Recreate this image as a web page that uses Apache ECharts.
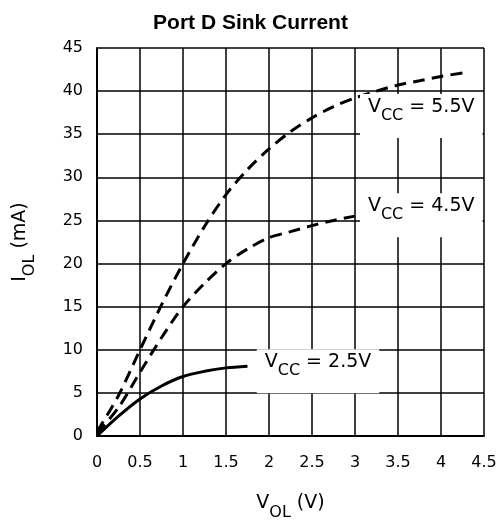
<!DOCTYPE html>
<html>
<head>
<meta charset="utf-8">
<script src="https://cdn.jsdelivr.net/npm/echarts@6/dist/echarts.min.js"></script>
<style>html,body{margin:0;padding:0;background:#fff}#c{width:501px;height:522px}</style>
</head>
<body>
<div id="c"></div>
<script>
const vol = [0, 0.25, 0.5, 0.75, 1.0, 1.25, 1.5, 1.75, 2.0, 2.25, 2.5, 2.75, 3.0, 3.25, 3.5, 3.75, 4.0, 4.25];
const iol55 = [0.5, 4.7, 10, 15.2, 20, 24.3, 28.0, 30.9, 33.3, 35.3, 36.9, 38.2, 39.2, 40, 40.7, 41.2, 41.7, 42.1];
const vol45 = [0, 0.25, 0.5, 0.75, 1.0, 1.25, 1.5, 1.75, 2.0, 2.25, 2.5, 2.75, 3.0];
const iol45 = [0.3, 3.3, 7.4, 11.4, 15, 17.7, 20.0, 21.7, 23.0, 23.7, 24.4, 25.0, 25.5];
const vol25 = [0, 0.25, 0.5, 0.75, 1.0, 1.25, 1.5, 1.75];
const iol25 = [0, 2.3, 4.3, 5.8, 6.9, 7.5, 7.9, 8.1];
const xTicks = [0, 0.5, 1, 1.5, 2, 2.5, 3, 3.5, 4, 4.5];
const yTicks = [0, 5, 10, 15, 20, 25, 30, 35, 40, 45];
const seriesNames = ['5.5V', '4.5V', '2.5V'];
const labelSpots = [[3.77, 37.1], [3.77, 25.6], [2.57, 7.5]];

const FONT = 'DejaVu Sans';
const pair = (xs, ys) => xs.map((x, i) => [x, ys[i]]);
const richLbl = {
  a: { fontFamily: FONT, fontSize: 19, color: '#000', lineHeight: 20, verticalAlign: 'top' },
  b: { fontFamily: FONT, fontSize: 16, color: '#000', lineHeight: 38, verticalAlign: 'middle' }
};
function vccLabel(i) {
  return {
    coord: labelSpots[i],
    symbolSize: 0,
    label: {
      show: true, position: 'inside',
      formatter: '{a|V}{b|CC}{a| = ' + seriesNames[i] + '}',
      rich: richLbl,
      backgroundColor: '#fff', padding: [3, 8, 3, 8]
    }
  };
}
function mkSeries(xs, ys, i, dashed) {
  return {
    type: 'line', data: pair(xs, ys), smooth: 0.3,
    showSymbol: false, symbol: 'none', z: 3,
    lineStyle: { color: '#000', width: 3, type: dashed ? [12, 7] : 'solid', cap: 'butt' },
    markPoint: { silent: true, symbol: 'circle', symbolSize: 0, z: 5, data: [vccLabel(i)] }
  };
}
const chart = echarts.init(document.getElementById('c'));
chart.setOption({
  animation: false,
  title: { text: 'Port D Sink Current', left: 'center', top: 8,
    textStyle: { fontFamily: 'Liberation Sans', fontWeight: 'bold', fontSize: 21, color: '#000' } },
  grid: { left: 97, right: 17, top: 48, bottom: 86, containLabel: false, outerBoundsMode: 'none' },
  xAxis: {
    type: 'value', min: xTicks[0], max: xTicks[xTicks.length - 1], interval: 0.5,
    axisLine: { show: true, onZero: false, lineStyle: { color: '#000', width: 2 } },
    axisTick: { show: false },
    splitLine: { show: true, lineStyle: { color: '#000', width: 1.5 } },
    axisLabel: { fontFamily: FONT, fontSize: 16, color: '#000', margin: 19 },
    name: '{a|V}{b|OL}{a| (V)}', nameLocation: 'middle', nameGap: 58,
    nameTextStyle: { rich: richLbl }
  },
  yAxis: {
    type: 'value', min: yTicks[0], max: yTicks[yTicks.length - 1], interval: 5,
    axisLine: { show: true, lineStyle: { color: '#000', width: 2 } },
    axisTick: { show: false },
    splitLine: { show: true, lineStyle: { color: '#000', width: 1.5 } },
    axisLabel: { fontFamily: FONT, fontSize: 16, color: '#000', margin: 14 },
    name: '{a|I}{b|OL}{a| (mA)}', nameLocation: 'middle', nameGap: 48,
    nameTextStyle: { rich: richLbl }
  },
  series: [
    mkSeries(vol, iol55, 0, true),
    mkSeries(vol45, iol45, 1, true),
    mkSeries(vol25, iol25, 2, false)
  ]
});
</script>
</body>
</html>
